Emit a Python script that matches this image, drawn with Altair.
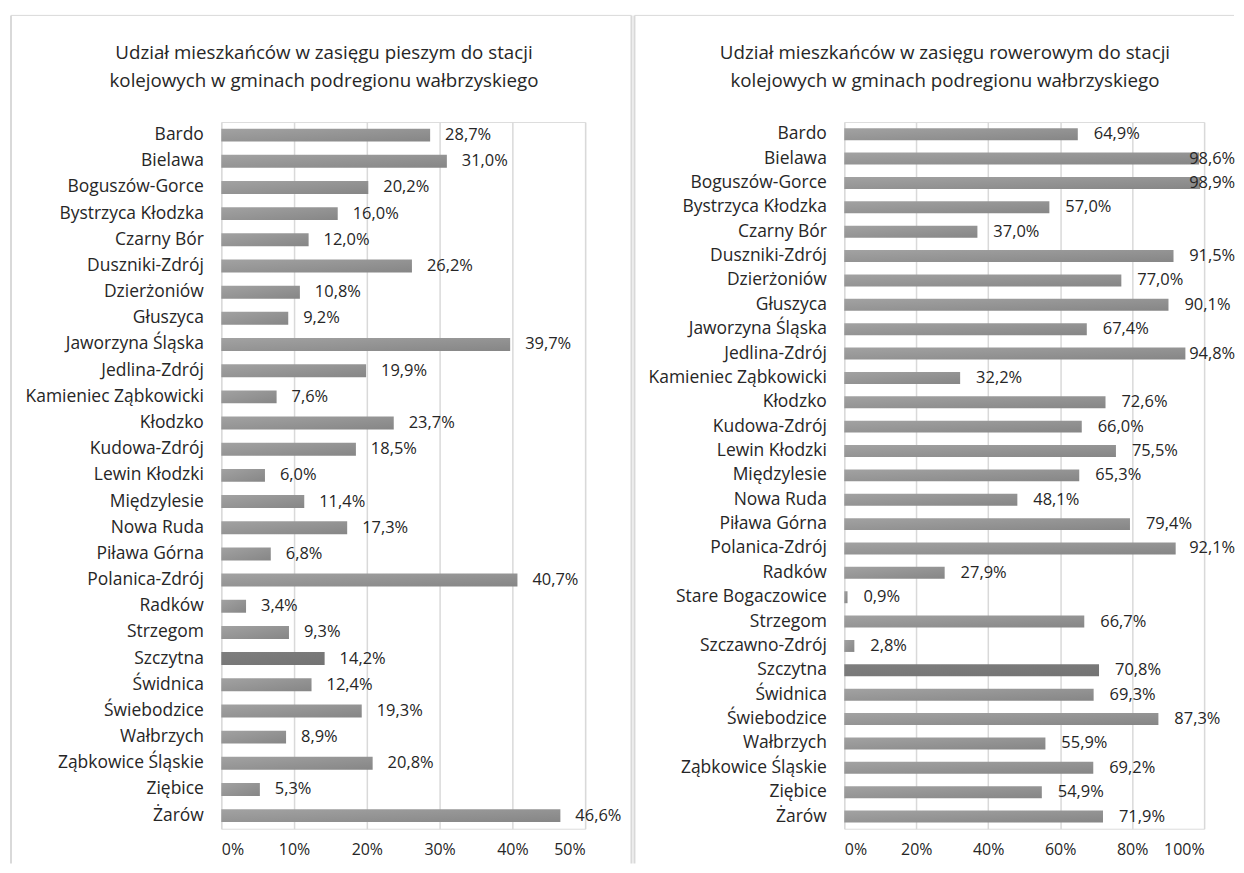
import altair as alt
import pandas as pd

# ---------------- data ----------------
walk_names = ["Bardo", "Bielawa", "Boguszów-Gorce", "Bystrzyca Kłodzka", "Czarny Bór",
              "Duszniki-Zdrój", "Dzierżoniów", "Głuszyca", "Jaworzyna Śląska", "Jedlina-Zdrój",
              "Kamieniec Ząbkowicki", "Kłodzko", "Kudowa-Zdrój", "Lewin Kłodzki", "Międzylesie",
              "Nowa Ruda", "Piława Górna", "Polanica-Zdrój", "Radków", "Strzegom", "Szczytna",
              "Świdnica", "Świebodzice", "Wałbrzych", "Ząbkowice Śląskie", "Ziębice", "Żarów"]
walk_values = [28.7, 31.0, 20.2, 16.0, 12.0, 26.2, 10.8, 9.2, 39.7, 19.9, 7.6, 23.7, 18.5, 6.0,
               11.4, 17.3, 6.8, 40.7, 3.4, 9.3, 14.2, 12.4, 19.3, 8.9, 20.8, 5.3, 46.6]

bike_names = ["Bardo", "Bielawa", "Boguszów-Gorce", "Bystrzyca Kłodzka", "Czarny Bór",
              "Duszniki-Zdrój", "Dzierżoniów", "Głuszyca", "Jaworzyna Śląska", "Jedlina-Zdrój",
              "Kamieniec Ząbkowicki", "Kłodzko", "Kudowa-Zdrój", "Lewin Kłodzki", "Międzylesie",
              "Nowa Ruda", "Piława Górna", "Polanica-Zdrój", "Radków", "Stare Bogaczowice",
              "Strzegom", "Szczawno-Zdrój", "Szczytna", "Świdnica", "Świebodzice", "Wałbrzych",
              "Ząbkowice Śląskie", "Ziębice", "Żarów"]
bike_values = [64.9, 98.6, 98.9, 57.0, 37.0, 91.5, 77.0, 90.1, 67.4, 94.8, 32.2, 72.6, 66.0,
               75.5, 65.3, 48.1, 79.4, 92.1, 27.9, 0.9, 66.7, 2.8, 70.8, 69.3, 87.3, 55.9,
               69.2, 54.9, 71.9]

walk_title = ["Udział mieszkańców w zasięgu pieszym do stacji",
              "kolejowych w gminach podregionu wałbrzyskiego"]
bike_title = ["Udział mieszkańców w zasięgu rowerowym do stacji",
              "kolejowych w gminach podregionu wałbrzyskiego"]

walk_ticks = [0, 10, 20, 30, 40, 50]
bike_ticks = [0, 20, 40, 60, 80, 100]

highlight = "Szczytna"

# ---------------- style ----------------
FONT = "Open Sans"
TEXT = "#262626"
GRID = "#d9d9d9"
FRAME = "#d9d9d9"


def grad(c1, c2):
    return alt.Gradient(
        gradient="linear",
        stops=[alt.GradientStop(color=c1, offset=0), alt.GradientStop(color=c2, offset=1)],
        x1=0, x2=1, y1=0, y2=1,
    )


def panel(names, values, title_lines, title_cx, ticks, width, height, bar_size, gap_px,
          label_limit, frame_left, frame_right, draw_right):
    df = pd.DataFrame({"gmina": names, "v": values})
    one = pd.DataFrame({"k": [0]})
    units_per_px = (ticks[-1] - ticks[0]) / width
    gap_units = gap_px * units_per_px

    y = alt.Y("gmina:N", sort=names, title=None,
              axis=alt.Axis(domain=False, ticks=False, grid=False, labelPadding=18,
                            labelFont=FONT, labelFontSize=17.5, labelColor=TEXT,
                            labelLimit=400))
    xscale = alt.Scale(domain=[ticks[0], ticks[-1]], nice=False)
    x = alt.X("v:Q", title=None, scale=xscale,
              axis=alt.Axis(values=ticks, labelExpr="datum.value + '%'", domain=False,
                            ticks=False, grid=True, gridColor=GRID, gridWidth=1.5,
                            labelPadding=13, labelFont=FONT, labelFontSize=16,
                            labelColor=TEXT))

    base = alt.Chart(df).transform_calculate(
        lbl="replace(format(datum.v, '.1f'), '.', ',') + '%'",
        lx=f"min(datum.v + {gap_units}, {label_limit})",
    )

    bars = base.transform_filter(alt.datum.gmina != highlight).mark_bar(
        size=bar_size, color=grad("#a2a2a2", "#868686")
    ).encode(x=x, y=y)

    bars_hl = base.transform_filter(alt.datum.gmina == highlight).mark_bar(
        size=bar_size, color=grad("#7e7e7e", "#737373")
    ).encode(x=x, y=y)

    labels = base.mark_text(
        align="left", baseline="middle", font=FONT, fontSize=16.5, color=TEXT
    ).encode(x=alt.X("lx:Q", scale=xscale), y=y, text="lbl:N")

    top = -107
    bottom = 744
    frame_layers = [
        alt.Chart(one).mark_rule(color=FRAME, strokeWidth=1).encode(
            x=alt.value(frame_left), x2=alt.value(frame_right), y=alt.value(top)),
        alt.Chart(one).mark_rule(color=FRAME, strokeWidth=2).encode(
            x=alt.value(frame_left), y=alt.value(top), y2=alt.value(bottom)),
    ]
    if draw_right:
        frame_layers.append(
            alt.Chart(one).mark_rule(color=FRAME, strokeWidth=2).encode(
                x=alt.value(frame_right), y=alt.value(top), y2=alt.value(bottom)))

    title_layers = [
        alt.Chart(one).mark_text(font=FONT, fontSize=18.8, color=TEXT, align="center",
                                 baseline="middle").encode(
            x=alt.value(title_cx), y=alt.value(-69), text=alt.value(title_lines[0])),
        alt.Chart(one).mark_text(font=FONT, fontSize=18.8, color=TEXT, align="center",
                                 baseline="middle").encode(
            x=alt.value(title_cx), y=alt.value(-41), text=alt.value(title_lines[1])),
    ]

    return alt.layer(bars, bars_hl, labels, *frame_layers, *title_layers).properties(
        width=width, height=height)


left = panel(walk_names, walk_values, walk_title, 103, walk_ticks, 365, 709, 13, 15,
             1000, -211, 411.5, True)
right = panel(bike_names, bike_values, bike_title, 101, bike_ticks, 361, 709, 12, 16,
              95.85, -210.5, 391, False)

chart = alt.hconcat(left, right, spacing=0).properties(
    padding={"left": 1, "top": 4, "right": 0, "bottom": 0}
).configure_view(stroke=None).configure(background="white")

chart.save("out.html", embed_options={"renderer": "svg", "actions": False})
